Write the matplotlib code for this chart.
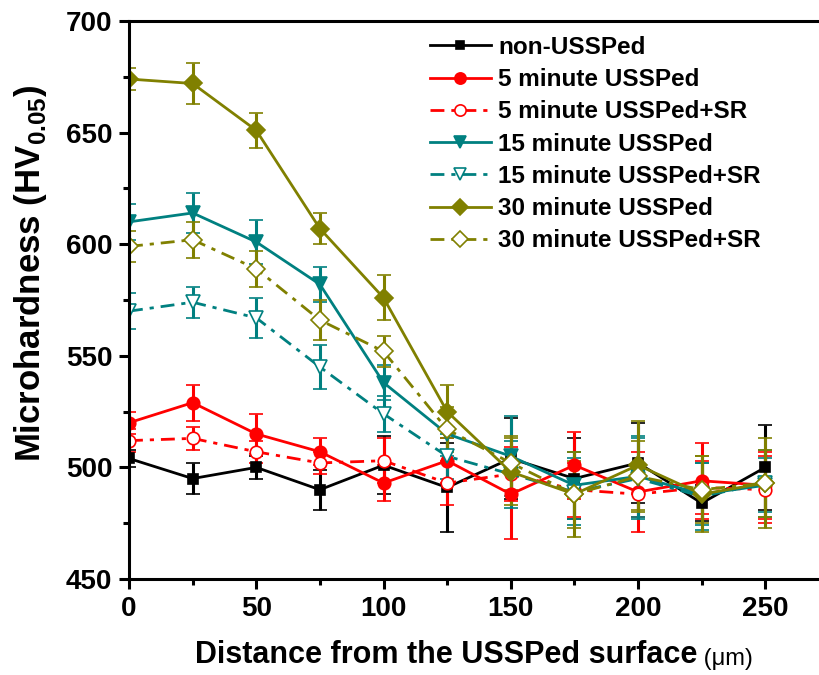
import matplotlib
matplotlib.use("Agg")
import matplotlib.pyplot as plt
from matplotlib.ticker import AutoMinorLocator

plt.rcParams['font.family'] = ['Liberation Sans', 'DejaVu Sans']
plt.rcParams['font.weight'] = 'bold'
plt.rcParams['mathtext.fontset'] = 'custom'
plt.rcParams['mathtext.rm'] = 'Liberation Sans:bold'
plt.rcParams['mathtext.bf'] = 'Liberation Sans:bold'

# distance from surface (um)
x = [0, 25, 50, 75, 100, 125, 150, 175, 200, 225, 250]

non = [504, 495, 500, 490, 501, 491, 504, 495, 502, 484, 500]
non_err = [4, 7, 5, 9, 13, 20, 18, 18, 18, 8, 19]

m5 = [520, 529, 515, 507, 493, 503, 488, 501, 489, 494, 492]
m5_err = [5, 8, 9, 6, 8, 10, 20, 15, 18, 17, 15]
m5sr = [512, 513, 507, 502, 503, 493, 497, 490, 488, 491, 490]
m5sr_err = [5, 5, 5, 5, 10, 10, 12, 12, 10, 12, 15]

m15 = [610, 614, 601, 582, 538, 515, 505, 492, 496, 488, 492]
m15_err = [8, 9, 10, 8, 8, 10, 18, 15, 18, 14, 12]
m15sr = [570, 574, 567, 545, 524, 505, 497, 489, 495, 487, 493]
m15sr_err = [8, 7, 9, 10, 8, 10, 15, 15, 18, 15, 15]

m30 = [674, 672, 651, 607, 576, 525, 498, 488, 501, 488, 493]
m30_err = [5, 9, 8, 7, 10, 12, 15, 19, 20, 17, 20]
m30sr = [599, 602, 589, 566, 552, 517, 502, 488, 496, 490, 493]
m30sr_err = [7, 8, 8, 9, 7, 10, 12, 15, 16, 15, 15]

labels = ["non-USSPed", "5 minute USSPed", "5 minute USSPed+SR",
          "15 minute USSPed", "15 minute USSPed+SR",
          "30 minute USSPed", "30 minute USSPed+SR"]

red = '#FF0000'
teal = '#008080'
olive = '#808000'
dashdot = (0, (5, 2.5, 1.5, 2.5))

series = [
    (non, non_err, 'black', 's', True, '-', 7),
    (m5, m5_err, red, 'o', True, '-', 9),
    (m5sr, m5sr_err, red, 'o', False, dashdot, 9),
    (m15, m15_err, teal, 'v', True, '-', 10),
    (m15sr, m15sr_err, teal, 'v', False, dashdot, 10),
    (m30, m30_err, olive, 'D', True, '-', 9),
    (m30sr, m30sr_err, olive, 'D', False, dashdot, 9),
]

fig = plt.figure(figsize=(8.2, 6.75), dpi=100)
ax = fig.add_axes([129 / 820, 1 - 579 / 675, 1 - 129 / 820, (579 - 21) / 675])

handles = []
for y, e, c, m, filled, ls, ms in series:
    eb = ax.errorbar(x, y, yerr=e, color=c, marker=m, ms=ms, lw=2, ls=ls,
                     mfc=c if filled else 'white', mec=c, mew=1.2,
                     elinewidth=2.2, capsize=5, capthick=2.2)
    handles.append(eb[0])

ax.set_xlim(0, 271.5)
ax.set_ylim(450, 700)
ax.set_xticks([0, 50, 100, 150, 200, 250])
ax.set_yticks([450, 500, 550, 600, 650, 700])
ax.xaxis.set_minor_locator(AutoMinorLocator(2))
ax.yaxis.set_minor_locator(AutoMinorLocator(2))
ax.tick_params(which='major', direction='out', length=7, width=2.2, labelsize=20, pad=5)
ax.tick_params(which='minor', direction='out', length=4, width=2.2)
for s in ax.spines.values():
    s.set_linewidth(2.2)
ax.spines['right'].set_visible(False)

leg = ax.legend(handles, labels, loc='upper left', bbox_to_anchor=(430 / 820, 1 - 36 / 675),
                bbox_transform=fig.transFigure, frameon=False, fontsize=17.5,
                handlelength=2.5, handletextpad=0.3, labelspacing=0.38,
                borderpad=0, borderaxespad=0, numpoints=1, markerscale=0.9)

fig.text(0.037, 0.595, 'Microhardness (HV$_{0.05}$)', rotation=90, ha='center', va='center',
         fontsize=25, fontweight='bold')
t = fig.text(195 / 820, 12 / 675, 'Distance from the USSPed surface', ha='left', va='baseline',
             fontsize=22, fontweight='bold')
ax.annotate(' (\u03bcm)', xy=(1, 0), xycoords=t, ha='left', va='bottom',
            fontsize=17, fontweight='normal')

fig.savefig('out.png', dpi=100)
